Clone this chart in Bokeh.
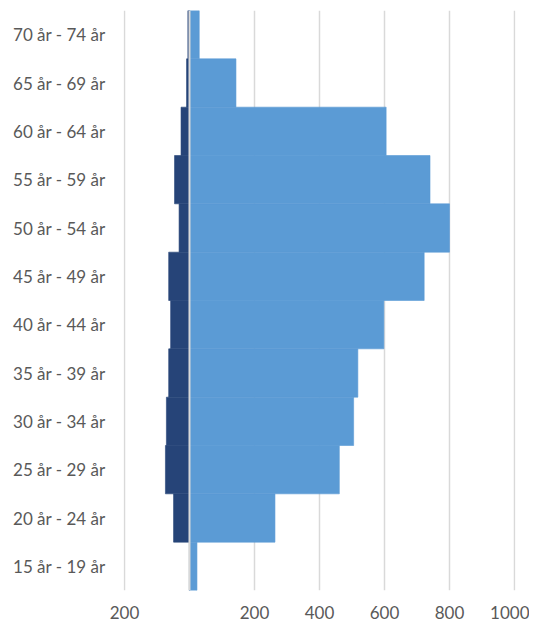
from bokeh.plotting import figure
from bokeh.models import FixedTicker, Span, FactorRange, Range1d
from bokeh.embed import file_html
from bokeh.resources import INLINE

categories = ["15 år - 19 år", "20 år - 24 år", "25 år - 29 år", "30 år - 34 år",
              "35 år - 39 år", "40 år - 44 år", "45 år - 49 år", "50 år - 54 år",
              "55 år - 59 år", "60 år - 64 år", "65 år - 69 år", "70 år - 74 år"]
left_values = [0, 49, 74, 71, 64, 58, 64, 32, 46, 26, 9, 5]
right_values = [23, 263, 461, 505, 518, 598, 722, 800, 740, 605, 143, 30]
x_ticks = [-200, 0, 200, 400, 600, 800, 1000]
x_tick_labels = {-200: "200", 0: "", 200: "200", 400: "400", 600: "600", 800: "800", 1000: "1000"}

p = figure(width=529, height=626, output_backend="svg", toolbar_location=None,
           y_range=FactorRange(*categories), x_range=Range1d(-203, 1003),
           min_border_left=123, min_border_right=14, min_border_top=10, min_border_bottom=36)
p.outline_line_color = None

p.hbar(y=categories, left=[-v for v in left_values], right=0, height=1.0,
       fill_color="#264478", line_color="#264478", line_width=0.6)
p.hbar(y=categories, left=0, right=right_values, height=1.0,
       fill_color="#5B9BD5", line_color="#5B9BD5", line_width=0.6)

p.add_layout(Span(location=0, dimension="height", line_color="#d9d9d9", line_width=2, level="overlay"))

p.xaxis.ticker = FixedTicker(ticks=x_ticks)
p.xaxis.major_label_overrides = x_tick_labels
p.xgrid.ticker = FixedTicker(ticks=x_ticks)
p.xgrid.grid_line_color = "#d9d9d9"
p.xgrid.grid_line_width = 1.5
p.ygrid.grid_line_color = None

for ax in (p.xaxis, p.yaxis):
    ax.axis_line_color = None
    ax.major_tick_line_color = None
    ax.minor_tick_line_color = None
    ax.major_tick_out = 0
    ax.major_tick_in = 0
    ax.major_label_text_font = "Lato"
    ax.major_label_text_font_size = "17px"
    ax.major_label_text_color = "#595959"

p.xaxis.major_label_standoff = 15
p.yaxis.major_label_standoff = 18

open("out.html", "w").write(file_html(p, INLINE))
